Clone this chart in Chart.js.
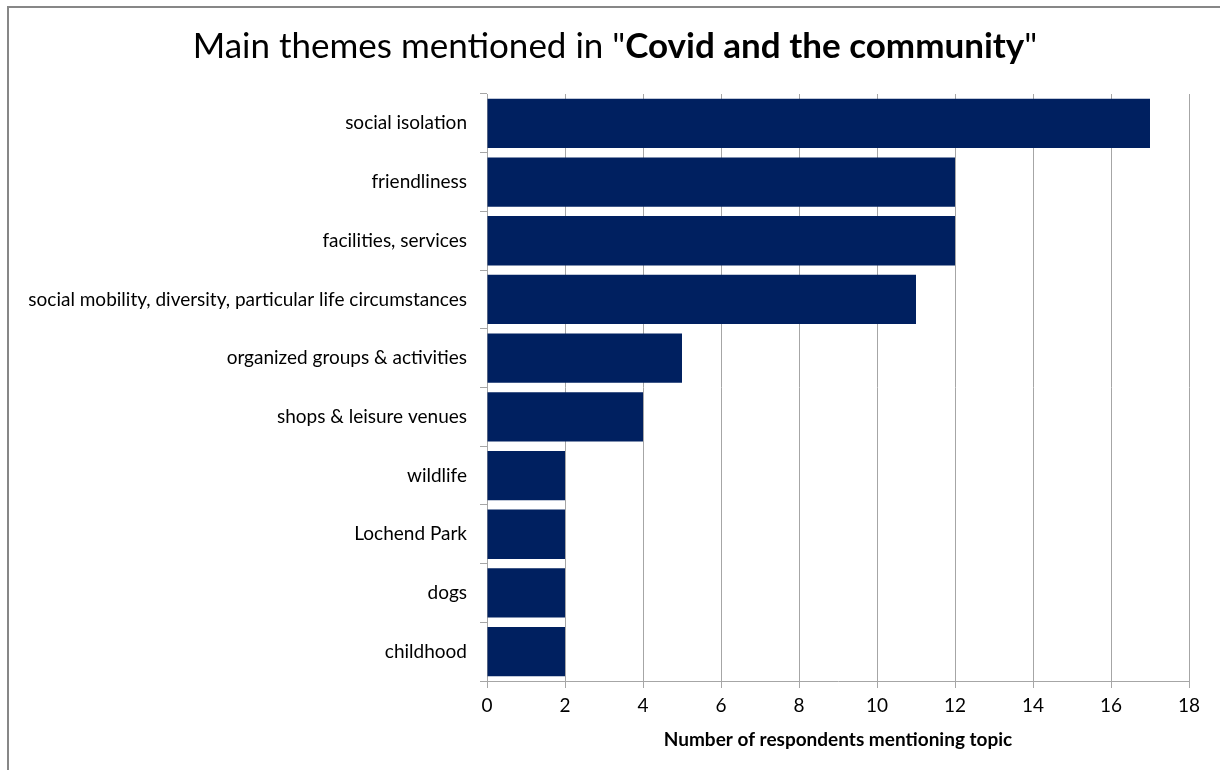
<!DOCTYPE html>
<html>
<head>
<meta charset="utf-8">
<script src="https://cdn.jsdelivr.net/npm/chart.js@4.4.1/dist/chart.umd.min.js"></script>
<style>
  html, body { margin: 0; padding: 0; background: #fff; }
  #wrap { width: 1220px; height: 770px; }
</style>
</head>
<body>
<div id="wrap"><canvas id="chart" width="1220" height="770"></canvas></div>
<script>
// Themes, top to bottom
const themes = [
  'social isolation',
  'friendliness',
  'facilities, services',
  'social mobility, diversity, particular life circumstances',
  'organized groups & activities',
  'shops & leisure venues',
  'wildlife',
  'Lochend Park',
  'dogs',
  'childhood'
];
// Respondents mentioning each theme
const respondents = [17, 12, 12, 11, 5, 4, 2, 2, 2, 2];
// Title pieces: plain lead, bold middle, plain tail
const titleLead = 'Main themes mentioned in "';
const titleBold = 'Covid and the community';
const titleTail = '"';
const xAxisTitle = 'Number of respondents mentioning topic';

const FONT = 'Lato, "Open Sans", sans-serif';
const GRID = '#a6a6a6';

// Outer frame and the two-weight title
const frameAndTitle = {
  id: 'frameAndTitle',
  beforeDraw(chart) {
    const ctx = chart.ctx;
    ctx.save();
    ctx.fillStyle = '#ffffff';
    ctx.fillRect(0, 0, chart.width, chart.height);
    ctx.strokeStyle = '#878787';
    ctx.lineWidth = 2;
    ctx.beginPath();
    ctx.moveTo(8, chart.height);
    ctx.lineTo(8, 7);
    ctx.lineTo(chart.width, 7);
    ctx.stroke();
    ctx.restore();
  },
  afterDraw(chart) {
    const ctx = chart.ctx;
    const size = 35;
    const parts = [
      { text: titleLead, font: `normal ${size}px ${FONT}` },
      { text: titleBold, font: `bold ${size}px ${FONT}` },
      { text: titleTail, font: `normal ${size}px ${FONT}` }
    ];
    ctx.save();
    ctx.fillStyle = '#000';
    ctx.textBaseline = 'alphabetic';
    ctx.textAlign = 'left';
    let total = 0;
    parts.forEach(p => { ctx.font = p.font; p.w = ctx.measureText(p.text).width; total += p.w; });
    let x = 615 - total / 2;
    parts.forEach(p => { ctx.font = p.font; ctx.fillText(p.text, x, 58); x += p.w; });
    ctx.restore();
  }
};

new Chart(document.getElementById('chart'), {
  type: 'bar',
  data: {
    labels: themes,
    datasets: [{
      data: respondents,
      backgroundColor: '#002060',
      borderWidth: 0,
      categoryPercentage: 1,
      barPercentage: 0.84
    }]
  },
  options: {
    indexAxis: 'y',
    responsive: false,
    animation: false,
    events: [],
    layout: { padding: { top: 94, right: 31, left: 0, bottom: 0 } },
    plugins: {
      legend: { display: false },
      tooltip: { enabled: false },
      title: { display: false }
    },
    scales: {
      x: {
        min: 0,
        max: 18,
        ticks: { stepSize: 2, color: '#000', font: { family: FONT, size: 19 }, padding: 6 },
        grid: { color: GRID, lineWidth: 1, tickLength: 7 },
        border: { color: GRID },
        title: {
          display: true,
          text: xAxisTitle,
          color: '#000',
          font: { family: FONT, size: 19, weight: 'bold' },
          padding: { top: 0, bottom: 19 }
        },
        afterFit(scale) { scale.height = 89; }
      },
      y: {
        ticks: { color: '#000', font: { family: FONT, size: 19 }, padding: 13 },
        grid: { drawOnChartArea: false, color: GRID, tickLength: 7 },
        border: { color: GRID },
        afterFit(scale) { scale.width = 487; }
      }
    }
  },
  plugins: [frameAndTitle]
});
</script>
</body>
</html>
